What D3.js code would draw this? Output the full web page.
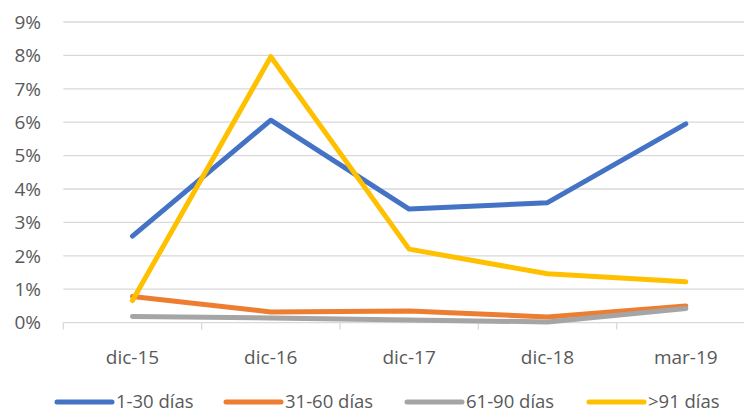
<!DOCTYPE html>
<meta charset="utf-8">
<script src="https://d3js.org/d3.v7.min.js"></script>
<style>
  body { margin: 0; background: #fff; }
  text { font-family: "Open Sans", "Noto Sans", sans-serif; fill: #595959; }
</style>
<div id="chart"></div>
<script>

// categories and series (percent values)
const categories = ["dic-15", "dic-16", "dic-17", "dic-18", "mar-19"];
const seriesNames = ["1-30 días", "31-60 días", "61-90 días", ">91 días"];
const d1_30 = [2.59, 6.06, 3.40, 3.59, 5.95];
const d31_60 = [0.78, 0.32, 0.35, 0.17, 0.50];
const d61_90 = [0.18, 0.14, 0.08, 0.02, 0.42];
const d91 = [0.66, 7.96, 2.20, 1.46, 1.22];
const yTicks = [0, 1, 2, 3, 4, 5, 6, 7, 8, 9];
const colors = ["#4472C4", "#ED7D31", "#A5A5A5", "#FFC000"];

const allSeries = [d1_30, d31_60, d61_90, d91];

const W = 744, H = 415;
const margin = {left: 63.3, right: 755, top: 22, bottom: 322.6};

const svg = d3.select("#chart").append("svg")
  .attr("width", W)
  .attr("height", H);

const x = d3.scaleBand()
  .domain(categories)
  .range([margin.left, margin.right]);

const y = d3.scaleLinear()
  .domain([0, 9])
  .range([margin.bottom, margin.top]);

// gridlines
svg.append("g")
  .selectAll("line")
  .data(yTicks.filter(d => d > 0))
  .join("line")
    .attr("x1", margin.left)
    .attr("x2", margin.right)
    .attr("y1", d => y(d))
    .attr("y2", d => y(d))
    .attr("stroke", "#d9d9d9")
    .attr("stroke-width", 1.3);

// y labels
svg.append("g")
  .selectAll("text")
  .data(yTicks)
  .join("text")
    .attr("x", 41)
    .attr("y", d => y(d))
    .attr("dy", "0.36em")
    .attr("text-anchor", "end")
    .style("font-size", "19px")
    .text(d => d + "%");

// x axis line + ticks between categories
svg.append("line")
  .attr("x1", margin.left).attr("x2", margin.right)
  .attr("y1", y(0)).attr("y2", y(0))
  .attr("stroke", "#d9d9d9")
  .attr("stroke-width", 1.3);

const bounds = categories.map(c => x(c)).concat([margin.right]);
svg.append("g")
  .selectAll("line")
  .data(bounds)
  .join("line")
    .attr("x1", d => d).attr("x2", d => d)
    .attr("y1", y(0)).attr("y2", y(0) + 7)
    .attr("stroke", "#d9d9d9")
    .attr("stroke-width", 1.3);

svg.append("g")
  .selectAll("text")
  .data(categories)
  .join("text")
    .attr("x", d => x(d) + x.bandwidth() / 2)
    .attr("y", 364)
    .attr("text-anchor", "middle")
    .style("font-size", "19px")
    .text(d => d);

// lines
const line = d3.line()
  .x((d, i) => x(categories[i]) + x.bandwidth() / 2)
  .y(d => y(d));

svg.append("g")
  .selectAll("path")
  .data(allSeries)
  .join("path")
    .attr("d", d => line(d))
    .attr("fill", "none")
    .attr("stroke", (d, i) => colors[i])
    .attr("stroke-width", 5)
    .attr("stroke-linecap", "round")
    .attr("stroke-linejoin", "round");

// legend
const legendX = [57, 226, 407, 589];
const leg = svg.append("g")
  .selectAll("g")
  .data(seriesNames)
  .join("g")
    .attr("transform", (d, i) => `translate(${legendX[i]},402)`);

leg.append("line")
  .attr("x1", 0).attr("x2", 55)
  .attr("y1", 0).attr("y2", 0)
  .attr("stroke", (d, i) => colors[i])
  .attr("stroke-width", 5)
  .attr("stroke-linecap", "round");

leg.append("text")
  .attr("x", 59)
  .attr("y", 0)
  .attr("dy", "0.33em")
  .style("font-size", "18.5px")
  .text(d => d);

</script>
